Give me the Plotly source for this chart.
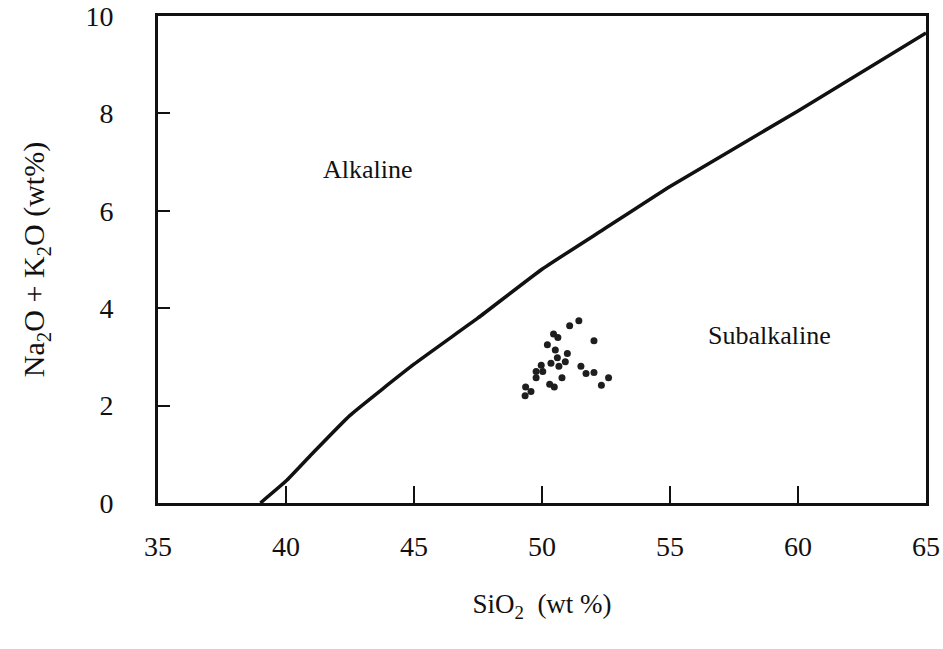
import plotly.graph_objects as go

# Alkaline / subalkaline dividing line (SiO2, Na2O+K2O)
divide_sio2 = [39.0, 40.0, 41.0, 42.5, 45.0, 47.5, 50.0, 52.5, 55.0, 60.0, 65.0]
divide_alk = [0.0, 0.45, 1.0, 1.8, 2.85, 3.8, 4.8, 5.65, 6.5, 8.05, 9.65]

# Samples
sample_sio2 = [51.08, 51.44, 50.45, 50.62, 52.03, 50.21, 50.52, 50.99, 50.60, 50.91,
               50.35, 49.97, 50.66, 51.52, 49.77, 50.03, 51.72, 52.03, 49.77, 50.78,
               52.60, 50.30, 50.48, 52.32, 49.36, 49.57, 49.34]
sample_alk = [3.64, 3.74, 3.47, 3.40, 3.33, 3.25, 3.14, 3.07, 2.98, 2.90,
              2.87, 2.83, 2.81, 2.81, 2.70, 2.70, 2.66, 2.68, 2.57, 2.57,
              2.57, 2.44, 2.38, 2.42, 2.38, 2.29, 2.20]

x_ticks = [35, 40, 45, 50, 55, 60, 65]
y_ticks = [0, 2, 4, 6, 8, 10]

field_labels = ["Alkaline", "Subalkaline"]
field_x = [43.2, 58.9]
field_y = [6.84, 3.43]

FONT = "Liberation Serif, Times New Roman, serif"
INK = "#111111"

fig = go.Figure()
fig.add_trace(go.Scatter(x=divide_sio2, y=divide_alk, mode="lines",
                         line=dict(color=INK, width=3.5, shape="spline", smoothing=0.4),
                         hoverinfo="skip", showlegend=False))
fig.add_trace(go.Scatter(x=sample_sio2, y=sample_alk, mode="markers",
                         marker=dict(color="#1e1e1e", size=7, line=dict(width=0)),
                         showlegend=False))

for t, xx, yy in zip(field_labels, field_x, field_y):
    fig.add_annotation(x=xx, y=yy, text=t, showarrow=False,
                       font=dict(family=FONT, size=26, color=INK))

fig.update_layout(
    width=943, height=649,
    margin=dict(l=158, r=17, t=16, b=146),
    plot_bgcolor="white", paper_bgcolor="white",
    font=dict(family=FONT, size=28, color=INK),
    xaxis=dict(range=[35, 65], tickvals=x_ticks, ticks="inside", ticklen=17,
               tickwidth=2, tickcolor=INK, showline=True, linewidth=3,
               linecolor=INK, mirror=True, showgrid=False, zeroline=False,
               automargin=False,
               ticklabelstandoff=16, tickfont=dict(family=FONT, size=28, color=INK),
               title=dict(text="SiO<sub>2</sub>  (wt %)", standoff=34,
                          font=dict(family=FONT, size=27, color=INK))),
    yaxis=dict(range=[0, 10], tickvals=y_ticks, ticks="inside", ticklen=12,
               tickwidth=2, tickcolor=INK, showline=True, linewidth=3,
               linecolor=INK, mirror=True, showgrid=False, zeroline=False,
               automargin=False,
               ticklabelstandoff=36, tickfont=dict(family=FONT, size=28, color=INK),
               title=dict(text="Na<sub>2</sub>O + K<sub>2</sub>O (wt%)",
                          standoff=32, font=dict(family=FONT, size=30, color=INK))),
)

fig.write_html("out.html")
